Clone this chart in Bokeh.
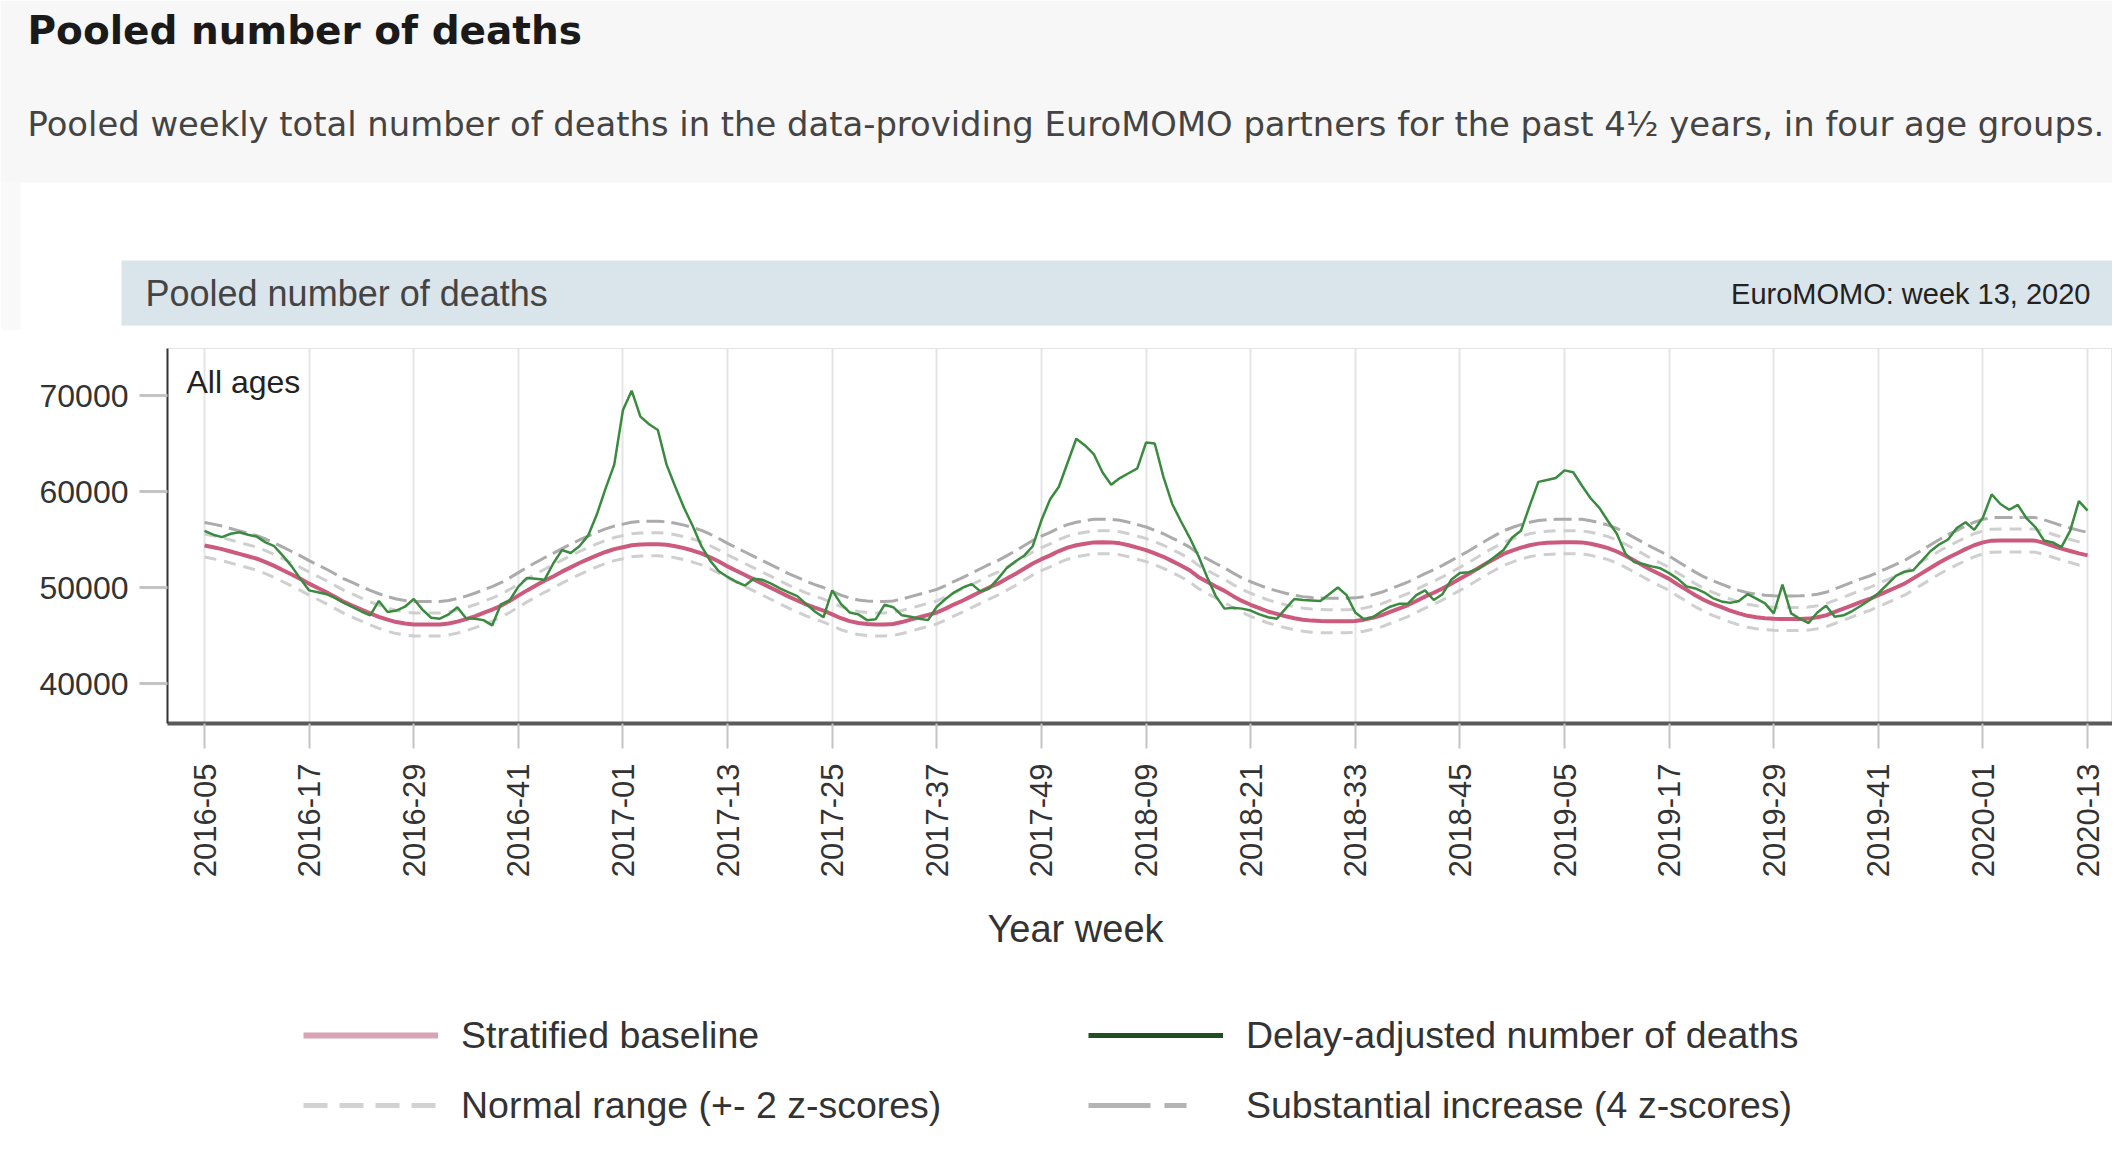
import math
from bokeh.plotting import figure
from bokeh.layouts import column
from bokeh.models import (Label, BoxAnnotation, Legend, LegendItem, FixedTicker,
                          NumeralTickFormatter, Range1d)
from bokeh.embed import file_html
from bokeh.resources import INLINE

# ---------------- data ----------------
TICK_LABELS = ["2016-05", "2016-17", "2016-29", "2016-41", "2017-01", "2017-13",
               "2017-25", "2017-37", "2017-49", "2018-09", "2018-21", "2018-33",
               "2018-45", "2019-05", "2019-17", "2019-29", "2019-41", "2020-01",
               "2020-13"]
TICK_WEEKS = [0, 12, 24, 36, 48, 60, 72, 84, 96, 108, 120, 132, 144, 156, 168,
              180, 192, 204, 216]

BASELINE = [
    54380, 54200, 54000, 53750, 53500, 53250, 53000, 52650, 52250, 51800,
    51350, 50900, 50400, 49950, 49500, 49000, 48500, 48100, 47700, 47300,
    46950, 46650, 46400, 46250, 46150, 46150, 46150, 46150, 46250, 46450,
    46700, 47000, 47350, 47700, 48100, 48600, 49150, 49700, 50200, 50700,
    51150, 51650, 52100, 52550, 52950, 53350, 53700, 54000, 54200, 54400,
    54480, 54500, 54500, 54450, 54300, 54100, 53850, 53550, 53150, 52700,
    52200, 51750, 51300, 50850, 50400, 49950, 49500, 49050, 48650, 48250,
    47900, 47600, 47200, 46800, 46500, 46300, 46200, 46150, 46150, 46200,
    46400, 46650, 46900, 47150, 47400, 47800, 48250, 48650, 49100, 49550,
    50000, 50400, 50900, 51400, 51950, 52500, 52950, 53350, 53800, 54150,
    54400, 54550, 54700, 54720, 54700, 54600, 54400, 54150, 53900, 53550,
    53200, 52750, 52300, 51800, 51100, 50600, 50100, 49650, 49100, 48600,
    48200, 47850, 47500, 47250, 47000, 46800, 46650, 46550, 46500, 46480,
    46480, 46490, 46520, 46650, 46850, 47100, 47450, 47800, 48150, 48600,
    49050, 49450, 49900, 50400, 50900, 51400, 51950, 52500, 53000, 53500,
    53850, 54150, 54400, 54570, 54650, 54700, 54720, 54720, 54700, 54550,
    54350, 54100, 53750, 53300, 52800, 52300, 51800, 51350, 50900, 50300,
    49750, 49200, 48700, 48300, 47950, 47600, 47300, 47050, 46900, 46800,
    46740, 46720, 46720, 46730, 46760, 46900, 47100, 47450, 47800, 48150,
    48500, 48800, 49200, 49600, 50000, 50400, 50950, 51500, 52050, 52600,
    53100, 53550, 54000, 54400, 54700, 54880, 54900, 54900, 54900, 54900,
    54880, 54650, 54350, 54050, 53800, 53550, 53350,
]

DEATHS = [
    55900, 55500, 55250, 55600, 55750, 55500, 55300, 54700, 54300, 53300,
    52200, 50900, 49700, 49500, 49300, 48900, 48400, 47950, 47500, 47100,
    48600, 47450, 47600, 48000, 48800, 47700, 46850, 46750, 47200, 47950,
    46800, 46750, 46600, 46050, 48250, 48650, 50100, 51000, 50900, 50800,
    52500, 53900, 53600, 54300, 55400, 57600, 60300, 62800, 68500, 70500,
    67800, 67000, 66400, 62800, 60500, 58300, 56400, 54300, 52800, 51700,
    51100, 50600, 50200, 50900, 50800, 50400, 49900, 49500, 49100, 48300,
    47500, 46900, 49700, 48300, 47400, 47200, 46600, 46700, 48200, 47950,
    47100, 46950, 46750, 46600, 48000, 48800, 49500, 50000, 50350, 49600,
    49900, 50900, 52000, 52700, 53300, 54300, 57000, 59200, 60500, 63000,
    65500, 64800, 63900, 62000, 60700, 61400, 61900, 62400, 65100, 65000,
    61500, 58700, 56900, 55200, 53300, 51100, 49100, 47800, 47900, 47800,
    47600, 47200, 46900, 46750, 47800, 48800, 48700, 48650, 48600, 49300,
    50000, 49200, 47400, 46700, 46900, 47500, 48000, 48300, 48300, 49200,
    49700, 48700, 49300, 50800, 51500, 51600, 51900, 52500, 53200, 53900,
    55200, 55900, 58500, 61000, 61200, 61400, 62200, 62000, 60600, 59300,
    58300, 56900, 55600, 53500, 52650, 52450, 52200, 52000, 51500, 50900,
    50100, 49900, 49500, 48900, 48550, 48400, 48600, 49300, 48850, 48350,
    47300, 50300, 47300, 46750, 46300, 47400, 48100, 46950, 47100, 47550,
    48100, 48700, 49400, 50300, 51200, 51650, 51800, 52800, 53800, 54500,
    55000, 56200, 56800, 56000, 57300, 59700, 58700, 58100, 58600, 57200,
    56300, 54900, 54700, 54200, 55900, 59000, 58000,
]

Z_SD = 600          # one z-score, in deaths
Y_TICKS = [40000, 50000, 60000, 70000]

LEGEND_LABELS = ["Stratified baseline", "Delay-adjusted number of deaths",
                 "Normal range (+- 2 z-scores)", "Substantial increase (4 z-scores)"]

assert len(BASELINE) == len(DEATHS) == 217

WEEKS = list(range(len(BASELINE)))
UPPER2 = [b + 2 * Z_SD for b in BASELINE]
LOWER2 = [b - 2 * Z_SD for b in BASELINE]
UPPER4 = [b + 4 * Z_SD for b in BASELINE]

# ---------------- styles ----------------
W = 2112
H_TOP, H_MAIN, H_BOT = 330, 560, 268
C_BASE, C_DEAD, C_NORM, C_SUBS = "#cc5a7c", "#3a8a3f", "#cfcfcf", "#ababab"
NAN = float("nan")


def blank_fig(height, y0, y1):
    f = figure(width=W, height=height, output_backend="svg", toolbar_location=None,
               x_range=Range1d(0, W), y_range=Range1d(y1, y0),
               x_axis_type=None, y_axis_type=None, title=None,
               min_border=0, min_border_left=0, min_border_right=0,
               min_border_top=0, min_border_bottom=0, frame_align=False)
    f.outline_line_color = None
    f.background_fill_color = "white"
    f.border_fill_color = "white"
    return f


def text(f, x, y, s, size, font="Liberation Sans", color="#333333",
         align="left", style="normal"):
    f.add_layout(Label(x=x, y=y, text=s, text_font=font, text_font_size=size,
                       text_color=color, text_align=align, text_baseline="middle",
                       text_font_style=style))


# ---------------- header ----------------
top = blank_fig(H_TOP, 0, H_TOP)
top.add_layout(BoxAnnotation(left=0, right=W, top=0, bottom=182,
                             fill_color="#f7f7f7", fill_alpha=1, line_color=None))
top.add_layout(BoxAnnotation(left=0, right=20, top=182, bottom=H_TOP,
                             fill_color="#f9f9f9", fill_alpha=1, line_color=None))
top.add_layout(BoxAnnotation(left=121, right=W, top=260, bottom=325,
                             fill_color="#dae4eb", fill_alpha=1, line_color=None))
text(top, 27, 30, "Pooled number of deaths", "39px", font="DejaVu Sans",
     color="#1a1a1a", style="bold")
text(top, 27, 124, "Pooled weekly total number of deaths in the data-providing "
     "EuroMOMO partners for the past 4\u00bd years, in four age groups.",
     "33.8px", font="DejaVu Sans", color="#444444")
text(top, 145, 293, "Pooled number of deaths", "36px", color="#444444")
text(top, 2090, 293, "EuroMOMO: week 13, 2020", "29px", color="#222222",
     align="right")

# ---------------- main chart ----------------
FRAME_L, FRAME_T, FRAME_B = 167, 348, 723   # page px
PX_PER_WEEK = 8.718
X0_PAGE = 204                                # page x of week 0
VAL_40K_PAGE, PX_PER_10K = 683, 96.0

x_start = (FRAME_L - X0_PAGE) / PX_PER_WEEK
x_end = (W - X0_PAGE) / PX_PER_WEEK
y_top = 40000 + (VAL_40K_PAGE - FRAME_T) / PX_PER_10K * 10000
y_bot = 40000 + (VAL_40K_PAGE - FRAME_B) / PX_PER_10K * 10000

p = figure(width=W, height=H_MAIN, output_backend="svg", toolbar_location=None,
           x_range=Range1d(x_start, x_end), y_range=Range1d(y_bot, y_top),
           min_border_left=FRAME_L, min_border_right=0,
           min_border_top=FRAME_T - H_TOP,
           min_border_bottom=H_TOP + H_MAIN - FRAME_B, title=None,
           frame_align=False)
p.background_fill_color = "white"
p.border_fill_color = "white"
p.outline_line_color = "#e4e4e4"
p.outline_line_width = 1

p.line(WEEKS, LOWER2, line_color=C_NORM, line_width=3, line_dash="12 8")
p.line(WEEKS, UPPER2, line_color=C_NORM, line_width=3, line_dash="12 8")
p.line(WEEKS, UPPER4, line_color=C_SUBS, line_width=3, line_dash="18 7")
p.line(WEEKS, BASELINE, line_color=C_BASE, line_width=4)
p.line(WEEKS, DEATHS, line_color=C_DEAD, line_width=2.5)

xa = p.xaxis[0]
xa.ticker = FixedTicker(ticks=TICK_WEEKS)
xa.major_label_overrides = {w: l for w, l in zip(TICK_WEEKS, TICK_LABELS)}
xa.major_label_orientation = math.pi / 2
xa.major_label_text_font = "Liberation Sans"
xa.major_label_text_font_size = "31px"
xa.major_label_text_color = "#333333"
xa.major_label_standoff = 15
xa.axis_line_color = "#5a5a5a"
xa.axis_line_width = 4
xa.major_tick_in = 0
xa.major_tick_out = 25
xa.major_tick_line_color = "#c4c4c4"
xa.major_tick_line_width = 2
xa.minor_tick_line_color = None

ya = p.yaxis[0]
ya.ticker = FixedTicker(ticks=Y_TICKS)
ya.formatter = NumeralTickFormatter(format="0")
ya.major_label_text_font = "Liberation Sans"
ya.major_label_text_font_size = "32px"
ya.major_label_text_color = "#333333"
ya.major_label_standoff = 11
ya.axis_line_color = "#333333"
ya.axis_line_width = 2
ya.major_tick_in = 0
ya.major_tick_out = 28
ya.major_tick_line_color = "#c4c4c4"
ya.major_tick_line_width = 3
ya.minor_tick_line_color = None

p.xgrid.grid_line_color = "#e4e4e4"
p.xgrid.grid_line_width = 2
p.ygrid.grid_line_color = None

p.add_layout(Label(x=186 - FRAME_L, y=FRAME_B - 381, x_units="screen",
                   y_units="screen", text="All ages", text_font="Liberation Sans",
                   text_font_size="32px", text_color="#222222",
                   text_baseline="middle", text_align="left"))

# ---------------- axis title + legend ----------------
Y_BOT0 = H_TOP + H_MAIN
bot = blank_fig(H_BOT, Y_BOT0, Y_BOT0 + H_BOT)
text(bot, 1075, 928, "Year week", "38px", color="#333333", align="center")

# legend swatches (no data of their own; they only carry the legend styling)
g_base = bot.line([NAN], [NAN], line_color="#d9a3b6", line_width=6)
g_dead = bot.line([NAN], [NAN], line_color="#1f4f22", line_width=5)
g_norm = bot.line([NAN], [NAN], line_color="#d2d2d2", line_width=5, line_dash="24 12")
g_subs = bot.line([NAN], [NAN], line_color="#b4b4b4", line_width=5,
                  line_dash="62 14 22")

legend = Legend(items=[LegendItem(label=lab, renderers=[r]) for lab, r in
                       zip(LEGEND_LABELS, [g_base, g_dead, g_norm, g_subs])],
                location=(303, Y_BOT0 + H_BOT - 1130), orientation="horizontal",
                ncols=2, glyph_width=135, glyph_height=50, label_height=50,
                label_width=607, label_standoff=23, spacing=20, padding=0,
                margin=0, border_line_color=None, background_fill_alpha=0,
                label_text_font="Liberation Sans", label_text_font_size="37.5px",
                label_text_color="#333333")
bot.add_layout(legend)

layout = column(top, p, bot, spacing=0)
open("out.html", "w").write(file_html(layout, INLINE))
